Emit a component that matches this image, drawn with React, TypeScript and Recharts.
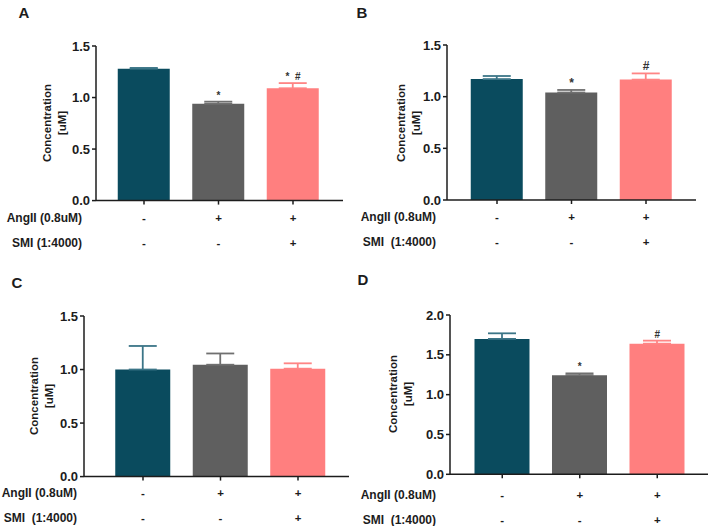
import React from 'react';
import { ComposedChart, Bar, Line, XAxis, YAxis, ErrorBar, Cell, LabelList } from 'recharts';

const groups = ['Control', 'AngII', 'AngII + SMI'];
const angiiSigns = ['-', '+', '+'];
const smiSigns = ['-', '-', '+'];
const barColors = ['#0A4B5E', '#5F5F5F', '#FF7F7F'];
const errColors = ['#3B7587', '#707070', '#FF8585'];

const valuesA = [1.28, 0.94, 1.09];
const errorsA = [0.007, 0.02, 0.05];
const marksA = ['', '*', '*\u00A0\u00A0#'];

const valuesB = [1.17, 1.04, 1.165];
const errorsB = [0.03, 0.025, 0.06];
const marksB = ['', '*', '#'];

const valuesC = [1.0, 1.045, 1.008];
const errorsC = [0.22, 0.105, 0.05];
const marksC = ['', '', ''];

const valuesD = [1.7, 1.245, 1.64];
const errorsD = [0.07, 0.022, 0.038];
const marksD = ['', '*', '#'];

const ticks15 = [0, 0.5, 1.0, 1.5];
const ticks20 = [0, 0.5, 1.0, 1.5, 2.0];

const FONT = '"Liberation Sans", Arial, Helvetica, sans-serif';
const INK = '#1c1c1c';

function buildRows(values: number[], errors: number[], marks: string[]) {
  return groups.map((g, i) => {
    const row: any = { group: g, value: values[i], top: values[i] + errors[i], mark: marks[i] };
    groups.forEach((_, j) => {
      row['err' + j] = i === j ? [0, errors[i]] : undefined;
    });
    return row;
  });
}

type PanelProps = {
  letter: string;
  letterX: number;
  letterY: number;
  values: number[];
  errors: number[];
  marks: string[];
  ticks: number[];
  axisX: number;
  plotTop: number;
  plotBottom: number;
  plotRight: number;
  padL: number;
  padR: number;
  barSize: number;
  row1: number;
  row2: number;
  rowLabelRight: number;
  yLabelCx: number;
  smiLabel: string;
  markSize: number;
};

const Y_AXIS_W = 45;
const M_TOP = 10;
const X_AXIS_H = 55;

function Panel(p: PanelProps) {
  const data = buildRows(p.values, p.errors, p.marks);
  const left = p.axisX - Y_AXIS_W;
  const top = p.plotTop - M_TOP;
  const width = p.plotRight - left;
  const height = M_TOP + (p.plotBottom - p.plotTop) + X_AXIS_H;
  const yMax = p.ticks[p.ticks.length - 1];
  const cy = (p.plotTop + p.plotBottom) / 2;

  const renderTick = (tp: any) => {
    const idx = tp.payload && tp.payload.index != null ? tp.payload.index : tp.index;
    const axisY = tp.y - 4;
    return (
      <g>
        <text x={tp.x} y={axisY + p.row1} textAnchor="middle" dominantBaseline="central"
          style={{ fontFamily: FONT, fontSize: 11.5, fontWeight: 700, fill: INK }}>{angiiSigns[idx]}</text>
        <text x={tp.x} y={axisY + p.row2} textAnchor="middle" dominantBaseline="central"
          style={{ fontFamily: FONT, fontSize: 11.5, fontWeight: 700, fill: INK }}>{smiSigns[idx]}</text>
      </g>
    );
  };

  const rowLabelStyle: React.CSSProperties = {
    position: 'absolute',
    width: 200,
    textAlign: 'right',
    fontFamily: FONT,
    fontSize: 12,
    fontWeight: 700,
    color: INK,
    lineHeight: '14px',
    whiteSpace: 'pre',
  };

  return (
    <>
      <div style={{ position: 'absolute', left: p.letterX - 10, top: p.letterY - 10, width: 20, height: 20, lineHeight: '20px', textAlign: 'center', fontFamily: FONT, fontSize: 15, fontWeight: 700, color: INK }}>{p.letter}</div>
      <div style={{ position: 'absolute', left, top, width, height }}>
        <ComposedChart width={width} height={height} data={data} margin={{ top: M_TOP, right: 0, bottom: 0, left: 0 }}>
          <XAxis dataKey="group" interval={0} height={X_AXIS_H} tickSize={4} tickMargin={0}
            padding={{ left: p.padL, right: p.padR }}
            axisLine={{ stroke: INK, strokeWidth: 1.5 }} tickLine={{ stroke: INK, strokeWidth: 1.5 }}
            tick={renderTick} />
          <YAxis type="number" domain={[0, yMax]} ticks={p.ticks} width={Y_AXIS_W} tickSize={4} tickMargin={2}
            interval={0} allowDataOverflow
            tickFormatter={(v: number) => v.toFixed(1)}
            axisLine={{ stroke: INK, strokeWidth: 1.5 }} tickLine={{ stroke: INK, strokeWidth: 1.5 }}
            tick={{ fontFamily: FONT, fontSize: 13, fontWeight: 700, fill: INK }} />
          <Bar dataKey="value" barSize={p.barSize} isAnimationActive={false}>
            {data.map((_, i) => (
              <Cell key={i} fill={barColors[i]} />
            ))}
            {groups.map((_, j) => (
              <ErrorBar key={j} dataKey={'err' + j} direction="y" width={14} stroke={errColors[j]} strokeWidth={1.8} isAnimationActive={false} />
            ))}
          </Bar>
          <Line dataKey="top" stroke="none" dot={false} activeDot={false} isAnimationActive={false} legendType="none">
            <LabelList dataKey="mark" position="top" offset={3}
              style={{ fontFamily: FONT, fontSize: p.markSize, fontWeight: 700, fill: '#333', whiteSpace: 'pre' }} />
          </Line>
        </ComposedChart>
      </div>
      <div style={{ ...rowLabelStyle, left: p.rowLabelRight - 200, top: p.plotBottom + p.row1 - 7 }}>AngII (0.8uM)</div>
      <div style={{ ...rowLabelStyle, left: p.rowLabelRight - 200, top: p.plotBottom + p.row2 - 7 }}>{p.smiLabel}</div>
      <div style={{ position: 'absolute', left: p.yLabelCx - 60, top: cy - 15, width: 120, height: 30, lineHeight: '15px', textAlign: 'center', transform: 'rotate(-90deg)', fontFamily: FONT, fontSize: 11.5, fontWeight: 700, color: INK }}>
        <div>Concentration</div>
        <div>[uM]</div>
      </div>
    </>
  );
}

export default function App() {
  return (
    <div style={{ position: 'absolute', left: 0, top: 0, width: 708, height: 526, background: '#fff', overflow: 'hidden' }}>
      <Panel letter="A" letterX={24} letterY={13} values={valuesA} errors={errorsA} marks={marksA} ticks={ticks15}
        axisX={96} plotTop={45.7} plotBottom={200.3} plotRight={343} padL={10.75} padR={12.75} barSize={52}
        row1={17.7} row2={42.7} rowLabelRight={82} yLabelCx={54.5} smiLabel="SMI (1:4000)" markSize={10} />
      <Panel letter="B" letterX={362} letterY={13} values={valuesB} errors={errorsB} marks={marksB} ticks={ticks15}
        axisX={447} plotTop={45} plotBottom={200} plotRight={696} padL={12.75} padR={12.75} barSize={52}
        row1={17} row2={42} rowLabelRight={436} yLabelCx={408.5} smiLabel="SMI  (1:4000)" markSize={12} />
      <Panel letter="C" letterX={17} letterY={283} values={valuesC} errors={errorsC} marks={marksC} ticks={ticks15}
        axisX={84} plotTop={315.7} plotBottom={476.3} plotRight={349} padL={20.25} padR={12.25} barSize={55}
        row1={16.7} row2={41.7} rowLabelRight={77} yLabelCx={42} smiLabel="SMI  (1:4000)" markSize={10} />
      <Panel letter="D" letterX={363} letterY={280} values={valuesD} errors={errorsD} marks={marksD} ticks={ticks20}
        axisX={449.7} plotTop={314.7} plotBottom={474} plotRight={708} padL={13.5} padR={12.3} barSize={55}
        row1={20.7} row2={46} rowLabelRight={436} yLabelCx={400.5} smiLabel="SMI  (1:4000)" markSize={10} />
    </div>
  );
}
